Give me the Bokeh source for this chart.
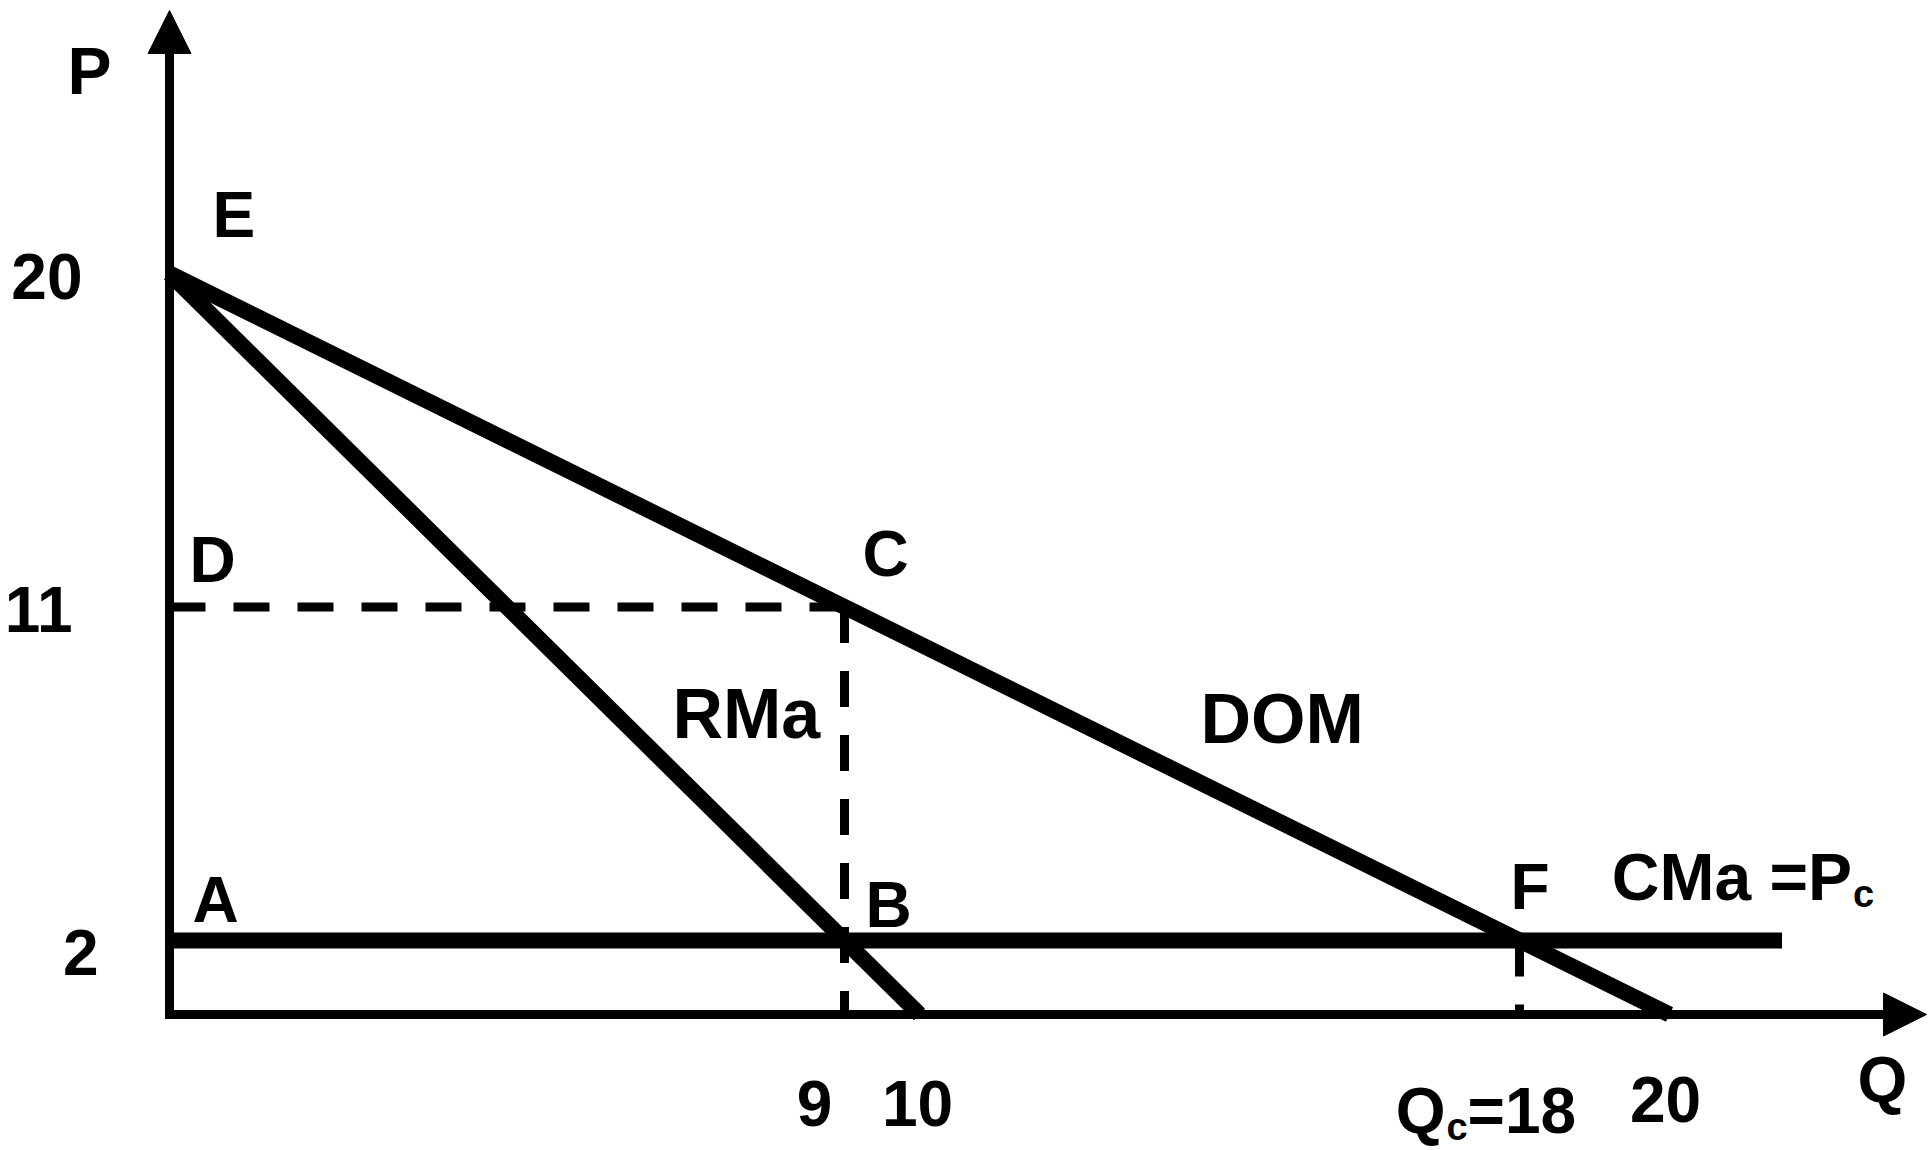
from bokeh.plotting import figure
from bokeh.models import Range1d, Arrow, NormalHead
from bokeh.core.properties import value
from bokeh.embed import file_html
from bokeh.resources import INLINE

# Market model: demand P = 20 - Q, marginal revenue P = 20 - 2Q, marginal cost P = 2
demand_q = [0, 20]
demand_p = [20, 0]
mr_q = [0, 10]
mr_p = [20, 0]
mc_q = [0, 21.5]
mc_p = [2, 2]

# Monopoly optimum (RMa = CMa) and competitive outcome (P = CMa)
monopoly_q, monopoly_p = 9, 11
competitive_q, competitive_p = 18, 2

# Named points of the diagram
point_names = ["E", "D", "A", "C", "B", "F"]
point_q = [0, 0, 0, 9, 9, 18]
point_p = [20, 11, 2, 11, 2, 2]

# Axis tick labels
y_tick_values = [20, 11, 2]
y_tick_labels = ["20", "11", "2"]
x_tick_values = [9, 10, 20]
x_tick_labels = ["9", "10", "20"]

# ---------------------------------------------------------------- layout
W, H = 1928, 1150
PX_PER_Q = 75.0
PX_PER_P = 37.05
ORIGIN_X, ORIGIN_Y = 169, 1014          # screen position of (Q=0, P=0)
AXIS_W = 9

x_range = Range1d(-ORIGIN_X / PX_PER_Q, (W - ORIGIN_X) / PX_PER_Q)
y_range = Range1d(-(H - ORIGIN_Y) / PX_PER_P, ORIGIN_Y / PX_PER_P)
q_axis_end = (W - 2 - ORIGIN_X) / PX_PER_Q
p_axis_end = (ORIGIN_Y - 10) / PX_PER_P

FONT = value("Liberation Sans")
INK = "black"


def baseline(dy, size):
    """Screen offset that puts the text baseline dy pixels from its anchor."""
    return dy - 0.375 * size


p = figure(width=W, height=H, x_range=x_range, y_range=y_range,
           x_axis_type=None, y_axis_type=None,
           output_backend="svg", toolbar_location=None, min_border=0)
p.outline_line_color = None
p.background_fill_color = "white"
p.border_fill_color = "white"

# ---------------------------------------------------------------- axes with arrow heads
corner_q = -AXIS_W / 2 / PX_PER_Q
corner_p = -AXIS_W / 2 / PX_PER_P
for xs, ys, xe, ye in [(0, corner_p, 0, p_axis_end), (corner_q, 0, q_axis_end, 0)]:
    p.add_layout(Arrow(x_start=xs, y_start=ys, x_end=xe, y_end=ye,
                       line_width=AXIS_W, line_color=INK,
                       end=NormalHead(size=43, fill_color=INK, line_color=INK, line_width=1)))

# ---------------------------------------------------------------- dashed guides
dash = dict(line_color=INK, line_width=9, line_dash="36 28", line_cap="butt")
p.line([0, monopoly_q], [monopoly_p, monopoly_p], **dash)
p.line([monopoly_q, monopoly_q], [monopoly_p, 0], **dash)
p.line([competitive_q, competitive_q], [competitive_p, 0], **dash)

# ---------------------------------------------------------------- curves
solid = dict(line_color=INK, line_width=16, line_cap="butt")
p.line(mc_q, mc_p, **solid)
p.line(mr_q, mr_p, **solid)
p.line(demand_q, demand_p, **solid)

# ---------------------------------------------------------------- texts
txt = dict(text_font=FONT, text_font_style="bold", text_color=INK,
           text_baseline="alphabetic")

# point letters
p.text(x=point_q, y=point_p, text=point_names,
       x_offset=[43, 20, 23, 18, 21, -9],
       y_offset=[baseline(d, 64) for d in [-35, -23, -16, -29, -11, -29]],
       text_align="left", text_font_size="64px", **txt)

# axis titles
p.text(x=[0], y=[p_axis_end], text=["P"], x_offset=-102, y_offset=baseline(85, 66),
       text_align="left", text_font_size="66px", **txt)
p.text(x=[q_axis_end], y=[0], text=["Q"], x_offset=-69, y_offset=baseline(89, 64),
       text_align="left", text_font_size="64px", **txt)

# price ticks
p.text(x=[0] * len(y_tick_values), y=y_tick_values, text=y_tick_labels,
       x_offset=[-87, -97, -71], y_offset=[baseline(d, 64) for d in [27, 27, 36]],
       text_align="right", text_font_size="64px", **txt)

# quantity ticks
p.text(x=x_tick_values, y=[0] * len(x_tick_values), text=x_tick_labels,
       x_offset=[-30, -2, -4], y_offset=[baseline(d, 64) for d in [113, 113, 109]],
       text_align="center", text_font_size="64px", **txt)
p.text(x=[competitive_q], y=[0], text=["Q"], x_offset=-74, y_offset=baseline(120, 64),
       text_align="right", text_font_size="64px", **txt)
p.text(x=[competitive_q], y=[0], text=["c"], x_offset=-73, y_offset=baseline(127, 38),
       text_align="left", text_font_size="38px", **txt)
p.text(x=[competitive_q], y=[0], text=["=18"], x_offset=-52, y_offset=baseline(120, 64),
       text_align="left", text_font_size="64px", **txt)

# curve names
p.text(x=[mr_q[-1]], y=[mr_p[-1]], text=["RMa"], x_offset=-247, y_offset=baseline(-274, 70),
       text_align="left", text_font_size="70px", **txt)
p.text(x=[demand_q[-1]], y=[demand_p[-1]], text=["DOM"], x_offset=-469,
       y_offset=baseline(-269, 70), text_align="left", text_font_size="70px", **txt)
p.text(x=[mc_q[-1]], y=[mc_p[-1]], text=["CMa =P"], x_offset=70, y_offset=baseline(-39, 66),
       text_align="right", text_font_size="66px", **txt)
p.text(x=[mc_q[-1]], y=[mc_p[-1]], text=["c"], x_offset=71, y_offset=baseline(-32, 38),
       text_align="left", text_font_size="38px", **txt)

open("out.html", "w").write(file_html(p, INLINE))
